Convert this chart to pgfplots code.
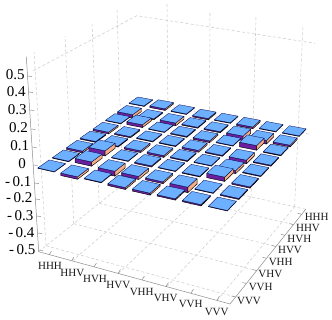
\documentclass[border=0pt]{standalone}
\usepackage{fontspec}
\setmainfont{Liberation Serif}
\usepackage{pgfplots}
\usepackage{pgfplotstable}
\pgfplotsset{compat=1.18}
\definecolor{barblue}{RGB}{108,176,255}
\definecolor{barpurple}{RGB}{108,30,160}
\definecolor{barorange}{RGB}{246,172,132}
\definecolor{gridgray}{RGB}{205,205,205}
\definecolor{axgray}{RGB}{140,140,140}
% bar values: rows j = HHH (back) ... VVV (front), columns HHH ... VVV
\pgfplotstableread{
c0 c1 c2 c3 c4 c5 c6 c7
0.003 0.009 0.003 -0.007 -0.003 -0.009 -0.003 -0.003
-0.018 -0.005 -0.015 -0.005 -0.006 -0.024 -0.018 -0.009
-0.003 0.015 -0.003 -0.005 -0.009 -0.003 0.024 -0.004
-0.009 -0.006 -0.004 -0.004 -0.009 -0.005 -0.018 -0.005
-0.005 -0.005 -0.009 -0.009 -0.005 -0.003 -0.015 -0.004
-0.009 0.026 -0.003 -0.006 -0.003 -0.004 0.021 -0.006
-0.003 0.021 -0.024 -0.015 -0.009 -0.026 -0.003 -0.005
-0.002 -0.012 -0.003 -0.009 -0.009 -0.006 -0.006 -0.002
}\rhotable
% perspective map of grid index (i,j) and height z to picture position
\newcommand{\proj}[5]{%
  \pgfmathsetmacro{\W}{1-0.009797*(#1)+0.020804*(#2)}%
  \pgfmathsetmacro{#4}{(22.207*(#1)+15.674*(#2)+51.7)/\W}%
  \pgfmathsetmacro{#5}{(3.433*(#1)-6.994*(#2)+165.7-200*(#3))/\W}%
}
\newcommand{\drawbar}[3]{%
  \pgfmathsetmacro{\zt}{max(#3,0)}%
  \pgfmathsetmacro{\zb}{min(#3,0)}%
  \pgfmathsetmacro{\il}{#1-0.36}\pgfmathsetmacro{\ih}{#1+0.36}%
  \pgfmathsetmacro{\jl}{#2-0.385}\pgfmathsetmacro{\jh}{#2+0.385}%
  \proj{\il}{\jl}{\zt}\ax\ay \proj{\il}{\jh}{\zt}\bx\by
  \proj{\ih}{\jh}{\zt}\cx\cy \proj{\ih}{\jl}{\zt}\dx\dy
  \proj{\il}{\jl}{\zb}\ex\ey \proj{\ih}{\jl}{\zb}\fx\fy
  \proj{\ih}{\jh}{\zb}\gx\gy
  \edef\tmp{\noexpand\addplot[fill=barpurple,draw=black,line width=0.45pt,line join=round,forget plot]
    coordinates {(\ax,\ay)(\dx,\dy)(\fx,\fy)(\ex,\ey)(\ax,\ay)};
    \noexpand\addplot[fill=barorange,draw=black,line width=0.45pt,line join=round,forget plot]
    coordinates {(\dx,\dy)(\cx,\cy)(\gx,\gy)(\fx,\fy)(\dx,\dy)};
    \noexpand\addplot[fill=barblue,draw=black!70!blue,line width=0.3pt,line join=round,forget plot]
    coordinates {(\ax,\ay)(\bx,\by)(\cx,\cy)(\dx,\dy)(\ax,\ay)};}%
  \tmp
}
\pgfplotsset{griddash/.style={draw=gridgray,line width=0.55pt,dash pattern=on 3pt off 2.2pt,forget plot},
  axln/.style={draw=axgray,line width=0.5pt,forget plot}}
\begin{document}
\begin{tikzpicture}
\begin{axis}[hide axis,scale only axis,width=332pt,height=319pt,
  xmin=0,xmax=332,ymin=0,ymax=319,y dir=reverse,clip=false,
  every axis plot/.append style={mark=none}]
\path (axis cs:0,0) rectangle (axis cs:332,319);
% wall verticals
\addplot[griddash] coordinates {(46,245.8)(34,52)};
\addplot[griddash] coordinates {(73.8,223.7)(65,36)};
\addplot[griddash] coordinates {(99.2,203.3)(92,23)};
\addplot[griddash] coordinates {(122.6,184.6)(117,10)};
\addplot[griddash] coordinates {(168.5,178.2)(167,4)};
\addplot[griddash] coordinates {(209.1,187.4)(210,12.7)};
\addplot[griddash] coordinates {(251.1,196.9)(256,16.7)};
\addplot[griddash] coordinates {(294.6,206.8)(303,25)};
% wall level lines
\addplot[griddash] coordinates {(33.3,70.7)(136.7,15.7)(315,43.3)};
\addplot[griddash] coordinates {(137.8,100.7)(309.9,134.3)};
% floor
\addplot[griddash] coordinates {(38.7,251.7)(139,171.5)(305.7,209.3)};
\addplot[griddash] coordinates {(72.2,260.9)(168.5,178.2)};
\addplot[griddash] coordinates {(118.5,273.5)(209.1,187.4)};
\addplot[griddash] coordinates {(166.8,286.7)(251.1,196.9)};
\addplot[griddash] coordinates {(217.1,300.5)(294.6,206.8)};
\addplot[griddash] coordinates {(46,245.8)(235.6,297)};
\addplot[griddash] coordinates {(73.8,223.7)(256.7,270.6)};
\addplot[griddash] coordinates {(99.2,203.3)(275.9,246.5)};
\addplot[griddash] coordinates {(122.6,184.6)(293.5,224.6)};
% axes
\addplot[axln] coordinates {(26.3,56.7)(38.7,251.7)(230,304)(305.7,209.3)};
\addplot[axln] coordinates {(27.5,76)(32,76.5)};
\addplot[axln] coordinates {(28.5,92)(33,92.5)};
\addplot[axln] coordinates {(29.7,110)(34.2,110.5)};
\addplot[axln] coordinates {(30.9,129)(35.4,129.5)};
\addplot[axln] coordinates {(32,147)(36.5,147.5)};
\addplot[axln] coordinates {(33.2,165)(37.7,165.5)};
\addplot[axln] coordinates {(34.3,183)(38.8,183.5)};
\addplot[axln] coordinates {(35.4,199)(39.9,199.5)};
\addplot[axln] coordinates {(36.4,216)(40.9,216.5)};
\addplot[axln] coordinates {(37.5,233)(42,233.5)};
\addplot[axln] coordinates {(38.6,250)(43.1,250.5)};
\addplot[axln] coordinates {(49.3,254.6)(51.5,251)};
\addplot[axln] coordinates {(71.7,260.7)(74,257)};
\addplot[axln] coordinates {(94,266.8)(96.5,263)};
\addplot[axln] coordinates {(118,273.4)(120.5,269.5)};
\addplot[axln] coordinates {(142,279.9)(144.5,276)};
\addplot[axln] coordinates {(166,286.5)(168.5,282.5)};
\addplot[axln] coordinates {(191,293.3)(193.5,289)};
\addplot[axln] coordinates {(217,300.4)(219.5,296)};
\addplot[axln] coordinates {(235.6,297)(231.6,296)};
\addplot[axln] coordinates {(246.4,283.5)(242.4,282.5)};
\addplot[axln] coordinates {(256.7,270.6)(252.7,269.6)};
\addplot[axln] coordinates {(266.5,258.3)(262.5,257.3)};
\addplot[axln] coordinates {(275.9,246.5)(271.9,245.5)};
\addplot[axln] coordinates {(284.9,235.3)(280.9,234.3)};
\addplot[axln] coordinates {(293.5,224.6)(289.5,223.6)};
\addplot[axln] coordinates {(301.7,214.3)(297.7,213.3)};
% bars, from back to front
\foreach \r in {0,...,7}{
  \pgfmathtruncatemacro{\j}{7-\r}
  \foreach \i in {0,...,7}{
    \pgfplotstablegetelem{\r}{c\i}\of\rhotable
    \let\zval\pgfplotsretval
    \drawbar{\i}{\j}{\zval}
  }
}
% labels
\def\zl#1#2#3{\node[anchor=east,inner sep=0pt,font=\fontsize{15}{15}\selectfont] at (axis cs:#1,#2) {#3};}
\zl{24.7}{75}{0.5}
\zl{25.7}{92}{0.4}
\zl{26.9}{110}{0.3}
\zl{28.1}{128}{0.2}
\zl{29.2}{146}{0.1}
\zl{26}{164}{0}
\zl{31.5}{182}{-\,0.1}
\zl{32.6}{198}{-\,0.2}
\zl{33.6}{216}{-\,0.3}
\zl{34.7}{233}{-\,0.4}
\zl{35.5}{250}{-\,0.5}
\def\tl#1#2#3{\node[inner sep=0pt,text=black!90,font=\fontsize{11}{11}\selectfont] at (axis cs:#1,#2) {#3};}
\tl{50}{266}{HHH}
\tl{72.3}{272.7}{HHV}
\tl{95}{279.3}{HVH}
\tl{118.3}{285}{HVV}
\tl{141.7}{291.7}{VHH}
\tl{165.7}{298.3}{VHV}
\tl{190.7}{304.3}{VVH}
\tl{216.7}{311.7}{VVV}
\tl{249}{300.7}{VVV}
\tl{260.7}{287.3}{VVH}
\tl{270.3}{274}{VHV}
\tl{280.7}{262}{VHH}
\tl{290}{250}{HVV}
\tl{299.3}{238.7}{HVH}
\tl{308}{228}{HHV}
\tl{316.7}{217.3}{HHH}
\end{axis}
\end{tikzpicture}
\end{document}
